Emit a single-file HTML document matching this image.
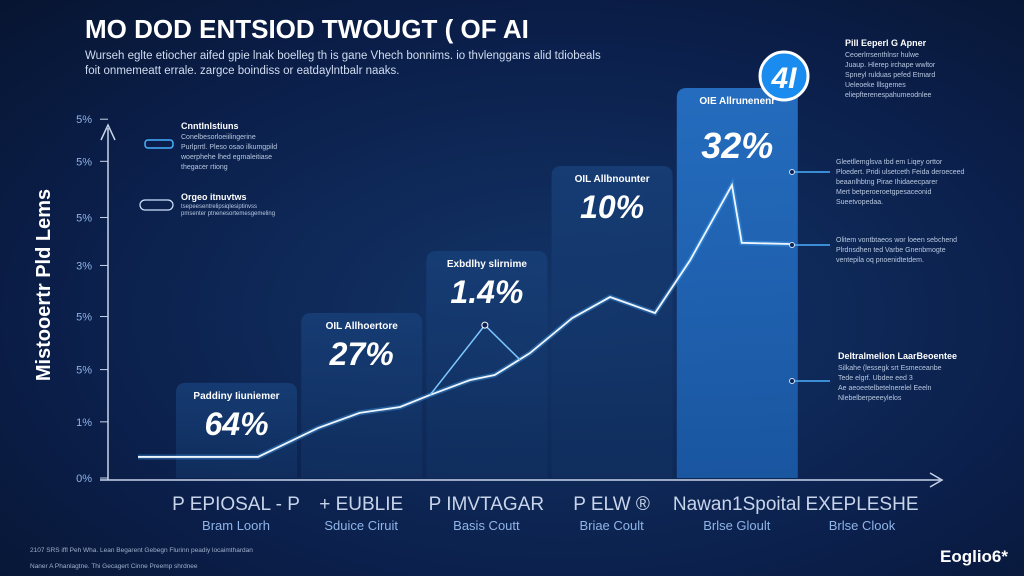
<!DOCTYPE html>
<html><head><meta charset="utf-8"><style>
html,body{margin:0;padding:0;width:1024px;height:576px;overflow:hidden;background:#0a1a3a;font-family:"Liberation Sans",sans-serif}
svg{display:block}
</style></head><body>
<svg id="chart" width="1024" height="576" viewBox="0 0 1024 576">
<defs>
<radialGradient id="bg" cx="0.55" cy="0.55" r="0.8"><stop offset="0" stop-color="#133568"/><stop offset="0.6" stop-color="#0b1f4b"/><stop offset="1" stop-color="#07142f"/></radialGradient>
<linearGradient id="barg" x1="0" y1="0" x2="0" y2="1"><stop offset="0" stop-color="#173f78"/><stop offset="1" stop-color="#102e5e"/></linearGradient>
<linearGradient id="barhi" x1="0" y1="0" x2="0" y2="1"><stop offset="0" stop-color="#2670c4"/><stop offset="1" stop-color="#1a58a4"/></linearGradient>
</defs>
<rect width="1024" height="576" fill="url(#bg)"/>
<text x="85" y="38" fill="#fff" font-size="26" font-weight="bold">MO DOD ENTSIOD TWOUGT ( OF AI</text>
<text x="85" y="59" fill="#d0dcf0" font-size="11.5">Wurseh eglte etiocher aifed gpie lnak boelleg th is gane Vhech bonnims. io thvlenggans alid tdiobeals</text>
<text x="85" y="74" fill="#d0dcf0" font-size="11.5">foit onmemeatt errale. zargce boindiss or eatdaylntbalr naaks.</text>
<text transform="translate(50,285) rotate(-90)" text-anchor="middle" fill="#fff" font-size="20" font-weight="bold">Mistooertr Pld Lems</text>
<g id="yticks"></g>
<g id="bars"></g>
<g id="lines"></g>
<g id="xlabels"></g>
<line x1="108" y1="480" x2="108" y2="128" stroke="#c8d4ea" stroke-width="1.5"/>
<path d="M101 140 L108 125 L115 140" fill="none" stroke="#c8d4ea" stroke-width="1.5"/>
<line x1="100" y1="480" x2="940" y2="480" stroke="#c8d4ea" stroke-width="1.5"/>
<path d="M930 473 L942 480 L930 487" fill="none" stroke="#c8d4ea" stroke-width="1.5"/>
<g>
<rect x="145" y="140" width="28" height="8" rx="3" fill="none" stroke="#4ab0ff" stroke-width="1.5"/>
<text x="181" y="129" fill="#fff" font-size="9" font-weight="bold">Cnntlnlstiuns</text>
<text x="181" y="139" fill="#b8c8e0" font-size="7">Conelbesorloeiilingerine</text>
<text x="181" y="149" fill="#b8c8e0" font-size="7">Purlprrtl. Pleso osao ilkumgpild</text>
<text x="181" y="159" fill="#b8c8e0" font-size="7">woerphehe lhed egmaleitiase</text>
<text x="181" y="169" fill="#b8c8e0" font-size="7">thegacer rtiong</text>
<rect x="140" y="200" width="33" height="10" rx="5" fill="none" stroke="#cfe4ff" stroke-width="1.2"/>
<text x="181" y="200" fill="#fff" font-size="9" font-weight="bold">Orgeo itnuvtws</text>
<text x="181" y="208" fill="#b8c8e0" font-size="6">tsepeesentrelipsiqlesiptinvss</text>
<text x="181" y="215" fill="#b8c8e0" font-size="6">pmsenter ptnenesortemesgemeling</text>
</g>
<g>
<circle cx="784" cy="76" r="24" fill="#1a8cf0" stroke="#fff" stroke-width="3"/>
<text x="784" y="88" text-anchor="middle" fill="#fff" font-size="30" font-weight="bold" font-style="italic">4I</text>
<text x="845" y="46" fill="#fff" font-size="9" font-weight="bold">Pill Eeperl G Apner</text>
<text x="845" y="57" fill="#b8c8e0" font-size="7">Ceoerlrrsenthlnsr hulwe</text>
<text x="845" y="67" fill="#b8c8e0" font-size="7">Juaup. Hlerep irchape wwltor</text>
<text x="845" y="77" fill="#b8c8e0" font-size="7">Spneyl rulduas pefed Etmard</text>
<text x="845" y="87" fill="#b8c8e0" font-size="7">Ueleoeke lllsgemes</text>
<text x="845" y="97" fill="#b8c8e0" font-size="7">eliepfterenespahumeodnlee</text>
<line x1="792" y1="172" x2="830" y2="172" stroke="#4ab0ff" stroke-width="1.5"/><circle cx="792" cy="172" r="2.5" fill="#0c2150" stroke="#cfe4ff"/>
<text x="836" y="164" fill="#b8c8e0" font-size="7">Gleetllemglsva tbd em Liqey orttor</text>
<text x="836" y="174" fill="#b8c8e0" font-size="7">Ploedert. Pridi ulsetceth Feida deroeceed</text>
<text x="836" y="184" fill="#b8c8e0" font-size="7">beaanlhbtng Pirae Ihidaeecparer</text>
<text x="836" y="194" fill="#b8c8e0" font-size="7">Mert betperoeroetgpesaceonid</text>
<text x="836" y="204" fill="#b8c8e0" font-size="7">Sueetvopedaa.</text>
<line x1="792" y1="245" x2="830" y2="245" stroke="#4ab0ff" stroke-width="1.5"/><circle cx="792" cy="245" r="2.5" fill="#0c2150" stroke="#cfe4ff"/>
<text x="836" y="242" fill="#b8c8e0" font-size="7">Olitem vontbtaeos wor loeen sebchend</text>
<text x="836" y="252" fill="#b8c8e0" font-size="7">Plrdnsdhen ted Varbe Gnenbmogte</text>
<text x="836" y="262" fill="#b8c8e0" font-size="7">ventepila oq pnoenidtetdem.</text>
<line x1="792" y1="381" x2="830" y2="381" stroke="#4ab0ff" stroke-width="1.5"/><circle cx="792" cy="381" r="2.5" fill="#0c2150" stroke="#cfe4ff"/>
<text x="838" y="359" fill="#fff" font-size="9" font-weight="bold">Deltralmelion LaarBeoentee</text>
<text x="838" y="370" fill="#b8c8e0" font-size="7">Silkahe (lessegk srt Esmeceanbe</text>
<text x="838" y="380" fill="#b8c8e0" font-size="7">Tede elgrf. Ubdee eed 3</text>
<text x="838" y="390" fill="#b8c8e0" font-size="7">Ae aeoeetelbetelnerelel Eeeln</text>
<text x="838" y="400" fill="#b8c8e0" font-size="7">Nlebelberpeeeylelos</text>
</g>
<text x="30" y="552" fill="#9fb0cc" font-size="6.5">2107 SRS iffl Peh Wha. Lean Begarent Gebegn Flurinn peadiy locaimthardan</text>
<text x="30" y="568" fill="#9fb0cc" font-size="6.5">Naner A Phanlagtne. Thi Gecagert Cinne Preemp shrdnee</text>
<text x="1008" y="562" text-anchor="end" fill="#fff" font-size="17" font-weight="bold">Eoglio6*</text>
</svg>
<script>
const yTickLabels=["0%","1%","5%","5%","3%","5%","5%","5%"];
const yTickValues=[0,14.4,27.8,41.4,54.5,66.8,81.2,92];
const categories=["P EPIOSAL - P","+ EUBLIE","P IMVTAGAR","P ELW ®","Nawan1Spoital","EXEPLESHE"];
const subLabels=["Bram Loorh","Sduice Ciruit","Basis Coutt","Briae Coult","Brlse Gloult","Brlse Clook"];
const barValues=[24.4,42.3,58.2,80,100];
const barTitles=["Paddiny Iiuniemer","OIL Allhoertore","Exbdlhy slirnime","OIL Allbnounter","OIE Allrunenenr"];
const barPrinted=["64%","27%","1.4%","10%","32%"];
const lineX=[0,1.84,2.76,3.4,4.02,4.48,5.09,5.47,6.01,6.66,7.24,7.93,8.47,9.11,9.26,10];
const lineY=[5.4,5.4,12.8,16.7,18.2,21.3,25.1,26.4,32,41,46.4,42.3,55.9,75.1,60.3,60];
const peakX=[4.48,5.32,5.86];
const peakY=[21.3,39.2,30.3];

const NS="http://www.w3.org/2000/svg";
const y=v=>478-v*3.9;
const x=v=>138+v*65.2;
const bx=i=>176+i*125.2;
function mk(tag,attrs,parent){const e=document.createElementNS(NS,tag);for(const k in attrs)e.setAttribute(k,attrs[k]);parent.appendChild(e);return e;}

const yt=document.getElementById('yticks');
yTickValues.forEach((v,i)=>{
  const t=mk('text',{x:92,y:y(v)+4,'text-anchor':'end',fill:'#8fb4e8','font-size':11},yt);
  t.textContent=yTickLabels[i];
  
  
  const l=mk('line',{x1:100,x2:108,y1:y(v),y2:y(v),stroke:'#c8d4ea'},yt);
  
  
});

const bg=document.getElementById('bars');
barValues.forEach((v,i)=>{
  const top=y(v),w=121;
  const r=mk('path',{d:`M${bx(i)} 478 V${top+10} Q${bx(i)} ${top} ${bx(i)+10} ${top} H${bx(i)+w-10} Q${bx(i)+w} ${top} ${bx(i)+w} ${top+10} V478 Z`,fill:i==4?'url(#barhi)':'url(#barg)',opacity:i==4?0.95:0.85},bg);
  
  
  const tt=mk('text',{x:bx(i)+w/2,y:top+16,'text-anchor':'middle',fill:'#fff','font-size':10,'font-weight':'bold'},bg);
  tt.textContent=barTitles[i];
  
  
  const pv=mk('text',{x:bx(i)+w/2,y:top+(i==4?70:52),'text-anchor':'middle',fill:'#fff','font-size':i==4?36:32,'font-weight':'bold','font-style':'italic'},bg);
  pv.textContent=barPrinted[i];
  
  
});

const lg=document.getElementById('lines');
const pts=lineX.map((v,i)=>x(v)+','+y(lineY[i])).join(' ');
const glow=mk('polyline',{points:pts,fill:'none',stroke:'#4ab0ff','stroke-width':5,opacity:0.35},lg);


const pl=mk('polyline',{points:pts,fill:'none',stroke:'#f0f6ff','stroke-width':1.8},lg);


const pk=mk('polyline',{points:peakX.map((v,i)=>x(v)+','+y(peakY[i])).join(' '),fill:'none',stroke:'#7cc8ff','stroke-width':1.5},lg);


const pkc=mk('circle',{cx:x(peakX[1]),cy:y(peakY[1]),r:3,fill:'#0c2150',stroke:'#fff'},lg);



const xl=document.getElementById('xlabels');
categories.forEach((c,i)=>{
  const cx=236+i*125.2;
  const t=mk('text',{x:cx,y:510,'text-anchor':'middle',fill:'#c8d4ea','font-size':19},xl);
  t.textContent=c;
  
  
  const s=mk('text',{x:cx,y:530,'text-anchor':'middle',fill:'#8fb4e8','font-size':13},xl);
  s.textContent=subLabels[i];
  
  
});
</script>
</body></html>
